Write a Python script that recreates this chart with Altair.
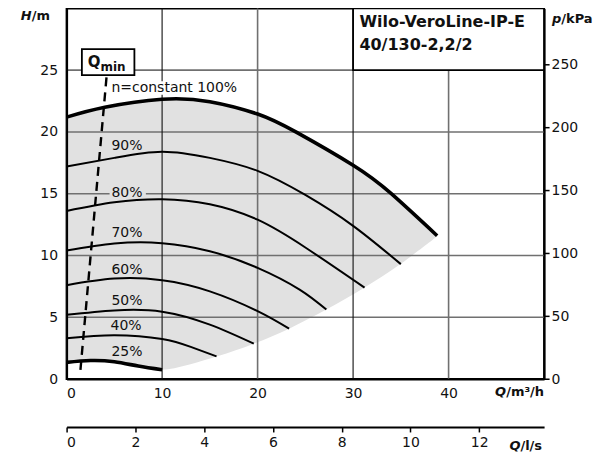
import altair as alt
import pandas as pd

FONT = "DejaVu Sans"
Q_MAX = 50.0          # m3/h
H_MAX = 30.0          # m
KPA_PER_M = 9.81
M3H_PER_LS = 3.6

# ---- speed curves (Q in m3/h, H in m) ----
Q100 = [0, 4, 10, 15, 20, 24, 30, 34, 38.8]
H100 = [21.2, 22.0, 22.65, 22.45, 21.45, 20.0, 17.3, 15.0, 11.6]
Q90 = [0, 5, 10, 15, 20, 25, 30, 35]
H90 = [17.2, 17.9, 18.4, 17.9, 16.85, 14.9, 12.4, 9.3]
Q80 = [0, 5, 10, 15, 20, 25, 31.2]
H80 = [13.6, 14.3, 14.55, 14.15, 12.9, 10.65, 7.4]
Q70 = [0, 5, 10, 15, 20, 24.4, 27.2]
H70 = [10.4, 10.97, 11.0, 10.35, 9.0, 7.24, 5.62]
Q60 = [0, 5, 10, 15, 20, 23.3]
H60 = [7.6, 8.13, 8.0, 7.1, 5.5, 4.08]
Q50 = [0, 5, 10, 15, 19.6]
H50 = [5.2, 5.55, 5.45, 4.4, 2.86]
Q40 = [0, 5, 10, 13, 15.7]
H40 = [3.3, 3.55, 3.24, 2.6, 1.83]
Q25 = [0, 2.5, 5, 7.5, 10]
H25 = [1.35, 1.5, 1.4, 1.05, 0.75]

# ---- operating field (grey area) ----
FILL_Q = [0, 2.5, 5, 7.5, 10, 15.7, 19.6, 23.3, 27.2, 31.2, 35, 38.8]
FILL_TOP = [21.2, 21.65, 22.15, 22.5, 22.65, 22.35, 21.5, 20.3, 18.6, 16.6, 14.3, 11.6]
FILL_BOTTOM = [1.35, 1.5, 1.4, 1.05, 0.75, 1.83, 2.86, 4.08, 5.62, 7.4, 9.33, 11.56]

# ---- Qmin line ----
QMIN_Q = [1.45, 4.2]
QMIN_H = [0.75, 24.6]

# ---- curve labels ----
LABELS = ["n=constant 100%", "90%", "80%", "70%", "60%", "50%", "40%", "25%"]
LABEL_Q = [4.7, 4.7, 4.7, 4.7, 4.7, 4.7, 4.6, 4.7]
LABEL_H = [23.55, 18.9, 15.07, 11.8, 8.8, 6.3, 4.27, 2.2]

# ---- ticks ----
X_TICKS = [0, 10, 20, 30, 40]
Y_TICKS = [0, 5, 10, 15, 20, 25]
KPA_TICKS = [0, 50, 100, 150, 200, 250]
LS_TICKS = [0, 2, 4, 6, 8, 10, 12]
GRID_V_DARK = [10, 30]
GRID_V_GREY = [20, 40]
GRID_H = [5, 10, 15, 20, 25]

TITLE1 = "Wilo-VeroLine-IP-E"
TITLE2 = "40/130-2,2/2"

# ------------------------------------------------------------------
curves = {"100%": (Q100, H100), "90%": (Q90, H90), "80%": (Q80, H80),
          "70%": (Q70, H70), "60%": (Q60, H60), "50%": (Q50, H50),
          "40%": (Q40, H40), "25%": (Q25, H25)}
rows = []
for name, (qs, hs) in curves.items():
    for q, h in zip(qs, hs):
        rows.append({"curve": name, "Q": q, "H": h})
df_curves = pd.DataFrame(rows)
df_thick = df_curves[df_curves.curve.isin(["100%", "25%"])]
df_thin = df_curves[~df_curves.curve.isin(["100%", "25%"])]

df_fill = pd.DataFrame({"Q": FILL_Q, "H": FILL_TOP, "H2": FILL_BOTTOM})
df_qmin = pd.DataFrame({"Q": QMIN_Q, "H": QMIN_H})
df_labels = pd.DataFrame({"label": LABELS, "Q": LABEL_Q, "H": LABEL_H})

xs = alt.Scale(domain=[0, Q_MAX], nice=False, zero=False)
ys = alt.Scale(domain=[0, H_MAX], nice=False, zero=False)

AX = alt.Axis(values=X_TICKS, title=None, grid=False, ticks=False, tickSize=0,
              domain=True, domainColor="black", domainWidth=2, zindex=1,
              labelPadding=7, labelFont=FONT, labelFontSize=14, labelColor="#111111")
AY = alt.Axis(values=Y_TICKS, title=None, grid=False, ticks=False, tickSize=0,
              domain=True, domainColor="black", domainWidth=2, zindex=1,
              labelPadding=9, labelFont=FONT, labelFontSize=14, labelColor="#111111")


def X(field="Q"):
    return alt.X(f"{field}:Q", scale=xs, axis=AX)


def Y(field="H"):
    return alt.Y(f"{field}:Q", scale=ys, axis=AY)


fill = alt.Chart(df_fill).mark_area(color="#e1e1e1", interpolate="catmull-rom").encode(
    x=X(), y=Y(), y2="H2:Q")

grid_h = alt.Chart(pd.DataFrame({"H": GRID_H})).mark_rule(
    color="#707070", strokeWidth=1.6).encode(y=Y())
grid_v_grey = alt.Chart(pd.DataFrame({"Q": GRID_V_GREY})).mark_rule(
    color="#707070", strokeWidth=1.6).encode(x=X())
grid_v_dark = alt.Chart(pd.DataFrame({"Q": GRID_V_DARK})).mark_rule(
    color="#111111", strokeWidth=1.1).encode(x=X())

# label backgrounds
bg = pd.DataFrame({"Q": [4.5, 4.5], "Q2": [17.9, 8.3], "H": [23.0, 14.55], "H2": [24.1, 15.6],
                   "c": ["white", "#e1e1e1"]})
label_bg = alt.Chart(bg).mark_rect().encode(
    x=X(), x2="Q2:Q", y=Y(), y2="H2:Q", color=alt.Color("c:N", scale=None))

thin = alt.Chart(df_thin).mark_line(color="black", strokeWidth=2, interpolate="natural").encode(
    x=X(), y=Y(), detail="curve:N")
thick = alt.Chart(df_thick).mark_line(color="black", strokeWidth=3.6, interpolate="natural").encode(
    x=X(), y=Y(), detail="curve:N")

qmin_line = alt.Chart(df_qmin).mark_line(color="black", strokeWidth=2.4, strokeDash=[9, 6]).encode(
    x=X(), y=Y())

labels = alt.Chart(df_labels).mark_text(align="left", baseline="middle", font=FONT,
                                        fontSize=14, color="#111111").encode(
    x=X(), y=Y(), text="label:N")

# boxes
boxes = pd.DataFrame({"Q": [1.6, 30.0], "Q2": [7.1, 50.0], "H": [24.6, 25.0], "H2": [26.7, 30.0]})
box = alt.Chart(boxes).mark_rect(fill="white", stroke="black", strokeWidth=1.8).encode(
    x=X(), x2="Q2:Q", y=Y(), y2="H2:Q")


def txt(text, x, y, align="left", size=13, weight="bold", style="normal", baseline="alphabetic"):
    return alt.Chart(pd.DataFrame({"t": [text]})).mark_text(
        align=align, baseline=baseline, font=FONT, fontSize=size, fontWeight=weight,
        fontStyle=style, color="#111111").encode(
        x=alt.value(x), y=alt.value(y), text="t:N")


annotations = [
    txt("Q", 34.0, 58.5, align="right", size=15),
    txt("min", 34.0, 62.5, size=12),
    txt(TITLE1, 293.3, 18.5, size=16),
    txt(TITLE2, 293.3, 41.5, size=16),
    txt("H", -35.0, 12, align="right", style="italic"),
    txt("/m", -35.0, 12),
    txt("p", 486.3, 14.5, style="italic"),
    txt("/kPa", 495.6, 14.5),
    txt("Q", 440.3, 388.5, align="right", style="italic"),
    txt("/m³/h", 440.3, 388.5),
    txt("Q", 454.6, 442, align="right", style="italic"),
    txt("/l/s", 454.6, 442),
]

main = alt.layer(fill, grid_h, grid_v_grey, grid_v_dark, label_bg, thin, thick, qmin_line,
                 labels, box, *annotations)

kpa = alt.Chart(pd.DataFrame({"p": [0.0]})).mark_rule(opacity=0).encode(
    y=alt.Y("p:Q", scale=alt.Scale(domain=[0, H_MAX * KPA_PER_M], nice=False, zero=False),
            axis=alt.Axis(orient="right", values=KPA_TICKS, title=None, grid=False,
                          ticks=True, tickSize=5, tickWidth=1.5, tickColor="black",
                          domain=True, domainColor="black", domainWidth=2, zindex=1,
                          labelPadding=2, labelFont=FONT, labelFontSize=14, labelColor="#111111")))

ls = alt.Chart(pd.DataFrame({"ls": [0.0]})).mark_rule(opacity=0).encode(
    x=alt.X("ls:Q", scale=alt.Scale(domain=[0, Q_MAX / M3H_PER_LS], nice=False, zero=False),
            axis=alt.Axis(orient="bottom", offset=48, values=LS_TICKS, title=None, grid=False,
                          ticks=True, tickSize=5, tickWidth=1.5, tickColor="black",
                          domain=True, domainColor="black", domainWidth=2,
                          labelPadding=4, labelFont=FONT, labelFontSize=14, labelColor="#111111")))

chart = alt.layer(main, kpa, ls).resolve_scale(x="independent", y="independent").properties(
    width=478.3, height=371.3, autosize=alt.AutoSizeParams(type="none"),
    padding={"left": 58.7, "top": 0, "right": 50, "bottom": 75}
).configure_view(stroke="black", strokeWidth=2)

chart.save("out.html", embed_options={"renderer": "svg", "actions": False})
